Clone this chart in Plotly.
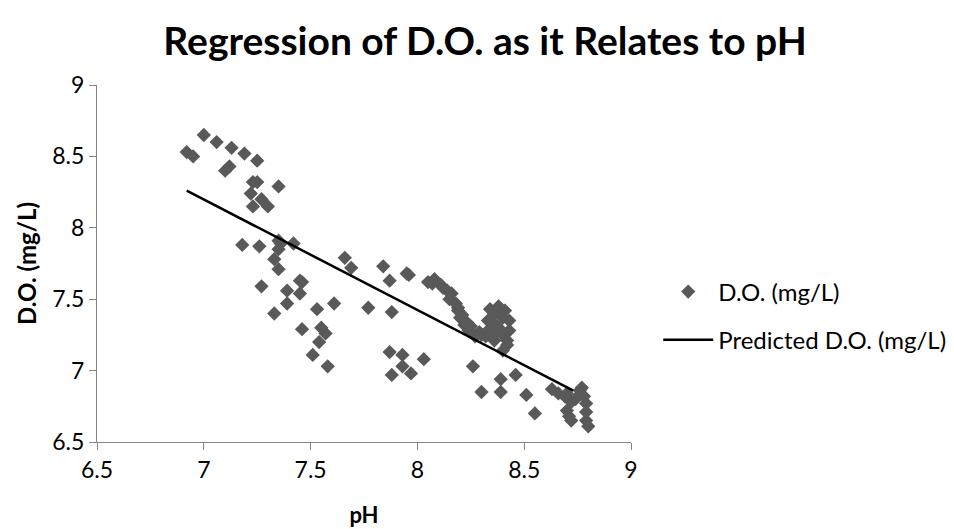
import plotly.graph_objects as go

ph = [6.92, 6.95, 7.00, 7.06, 7.10, 7.12, 7.13, 7.19, 7.25, 7.23, 7.25, 7.35, 7.22, 7.27, 7.23, 7.30,
      7.18, 7.26, 7.35, 7.36, 7.35, 7.42, 7.33, 7.35, 7.66, 7.69, 7.27, 7.39, 7.45, 7.46, 7.45, 7.39,
      7.61, 7.53, 7.33, 7.77, 7.46, 7.55, 7.57, 7.54, 7.51, 7.58, 7.84, 7.87, 7.95, 7.96, 7.88, 7.87,
      7.93, 7.93, 8.03, 7.88, 7.97, 8.26, 8.30, 8.39, 8.39, 8.46, 8.51, 8.55, 8.63, 8.66, 8.69,
      8.05, 8.08, 8.07, 8.11, 8.12, 8.14, 8.16, 8.15, 8.18, 8.19, 8.19, 8.21, 8.20, 8.23, 8.22, 8.25,
      8.24, 8.29, 8.27, 8.32, 8.30,
      8.34, 8.36, 8.38, 8.41, 8.33, 8.36, 8.40, 8.43, 8.33, 8.36, 8.38, 8.43, 8.36, 8.42, 8.40, 8.40, 8.42,
      8.70, 8.72, 8.70, 8.72, 8.76, 8.77, 8.78, 8.79, 8.79, 8.79, 8.80, 8.71, 8.74]
do = [8.53, 8.50, 8.65, 8.60, 8.40, 8.43, 8.56, 8.52, 8.47, 8.32, 8.32, 8.29, 8.24, 8.20, 8.15, 8.15,
      7.88, 7.87, 7.91, 7.89, 7.85, 7.89, 7.78, 7.71, 7.79, 7.72, 7.59, 7.56, 7.63, 7.62, 7.54, 7.47,
      7.47, 7.43, 7.40, 7.44, 7.29, 7.30, 7.26, 7.20, 7.11, 7.03, 7.73, 7.63, 7.68, 7.67, 7.41, 7.13,
      7.11, 7.03, 7.08, 6.97, 6.98, 7.03, 6.85, 6.94, 6.85, 6.97, 6.83, 6.70, 6.87, 6.84, 6.82,
      7.62, 7.64, 7.61, 7.60, 7.58, 7.56, 7.54, 7.50, 7.47, 7.44, 7.42, 7.39, 7.37, 7.34, 7.32, 7.31,
      7.28, 7.27, 7.24, 7.24, 7.25,
      7.43, 7.40, 7.45, 7.42, 7.35, 7.33, 7.37, 7.35, 7.28, 7.26, 7.30, 7.28, 7.21, 7.21, 7.14, 7.25, 7.18,
      6.84, 6.78, 6.72, 6.65, 6.86, 6.88, 6.82, 6.77, 6.71, 6.65, 6.61, 6.68, 6.80]

pred_ph = [6.92, 8.73]
pred_do = [8.26, 6.86]

x_ticks = [6.5, 7, 7.5, 8, 8.5, 9]
y_ticks = [6.5, 7, 7.5, 8, 8.5, 9]

font_family = "Lato, 'Open Sans', sans-serif"

fig = go.Figure()
fig.add_trace(go.Scatter(
    x=ph, y=do, mode="markers", name="D.O. (mg/L)", legendgroup="a",
    marker=dict(symbol="diamond", size=11, color="#595959", line=dict(width=0)),
))
fig.add_trace(go.Scatter(
    x=pred_ph, y=pred_do, mode="lines", name="Predicted D.O. (mg/L)", legendgroup="b",
    line=dict(color="black", width=2.5),
))

axis_common = dict(
    showgrid=False, zeroline=False, showline=True, linecolor="#868686", linewidth=1,
    ticks="outside", ticklen=7, tickcolor="#868686", automargin=False,
    tickfont=dict(size=23, color="black", family=font_family),
)

fig.update_layout(
    width=954, height=529,
    paper_bgcolor="white", plot_bgcolor="white",
    margin=dict(l=89, r=330, t=77, b=95),
    title=dict(text="<b>Regression of D.O. as it Relates to pH</b>", x=0.5, xanchor="center",
               y=0.937, yanchor="middle",
               font=dict(size=39, color="black", family=font_family)),
    xaxis=dict(range=[6.5, 9], tickvals=x_ticks, ticktext=[str(v) for v in x_ticks],
               title=dict(text="<b>pH</b>", font=dict(size=22, color="black", family=font_family), standoff=26),
               **axis_common),
    yaxis=dict(range=[6.5, 9], tickvals=y_ticks, ticktext=[str(v) for v in y_ticks],
               title=dict(text="<b>D.O. (mg/L)</b>", font=dict(size=24, color="black", family=font_family), standoff=8),
               **axis_common),
    legend=dict(x=1.049, y=0.353, xanchor="left", yanchor="middle",
                font=dict(size=24, color="black", family=font_family),
                traceorder="grouped", tracegroupgap=14, itemwidth=50, bgcolor="rgba(0,0,0,0)"),
    showlegend=True,
)

fig.write_html("out.html")
